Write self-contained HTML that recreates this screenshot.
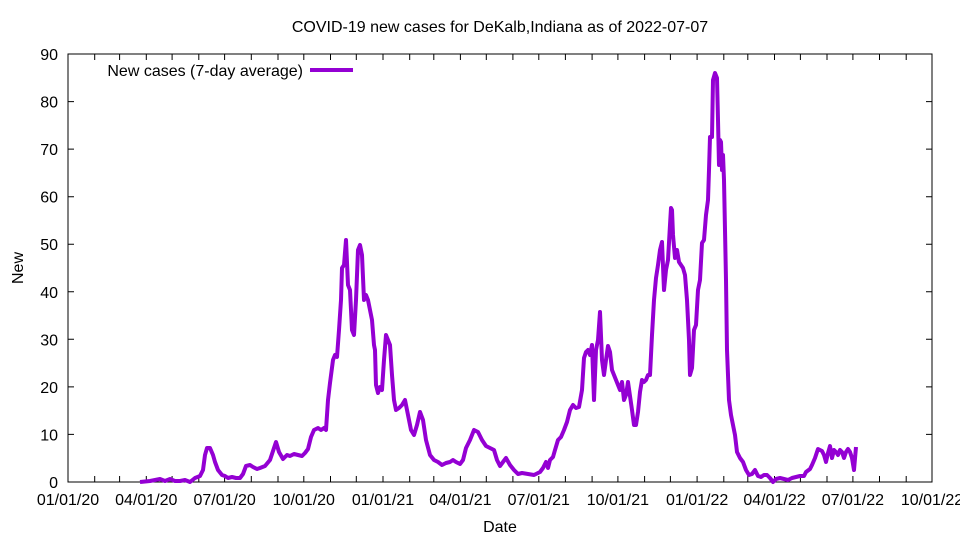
<!DOCTYPE html>
<html><head><meta charset="utf-8"><style>body{margin:0;background:#fff}svg{display:block}text{font-family:"Liberation Sans",sans-serif;font-size:16px;fill:#000}</style></head>
<body>
<svg width="960" height="540" xmlns="http://www.w3.org/2000/svg">
<rect x="68" y="54" width="864" height="428" fill="none" stroke="#000" stroke-width="1"/>
<g stroke="#000" stroke-width="1">
<path d="M68 434.4h6M68 386.9h6M68 339.3h6M68 291.8h6M68 244.2h6M68 196.7h6M68 149.1h6M68 101.6h6M932 434.4h-6M932 386.9h-6M932 339.3h-6M932 291.8h-6M932 244.2h-6M932 196.7h-6M932 149.1h-6M932 101.6h-6"/>
<path id="tk" d="M94.7 482v-6M119.6 482v-6M146.3 482v-6M172.1 482v-6M198.8 482v-6M224.6 482v-6M251.3 482v-6M278 482v-6M303.8 482v-6M330.5 482v-6M356.3 482v-6M383 482v-6M409.7 482v-6M433.8 482v-6M460.4 482v-6M486.3 482v-6M512.9 482v-6M538.8 482v-6M565.4 482v-6M592.1 482v-6M617.9 482v-6M644.6 482v-6M670.4 482v-6M697.1 482v-6M723.8 482v-6M747.8 482v-6M774.5 482v-6M800.4 482v-6M827 482v-6M852.9 482v-6M879.5 482v-6M906.2 482v-6"/>
<path d="M94.7 54v6M119.6 54v6M146.3 54v6M172.1 54v6M198.8 54v6M224.6 54v6M251.3 54v6M278 54v6M303.8 54v6M330.5 54v6M356.3 54v6M383 54v6M409.7 54v6M433.8 54v6M460.4 54v6M486.3 54v6M512.9 54v6M538.8 54v6M565.4 54v6M592.1 54v6M617.9 54v6M644.6 54v6M670.4 54v6M697.1 54v6M723.8 54v6M747.8 54v6M774.5 54v6M800.4 54v6M827 54v6M852.9 54v6M879.5 54v6M906.2 54v6"/>
</g>
<g text-anchor="end">
<text x="58" y="488">0</text><text x="58" y="440.4">10</text><text x="58" y="392.9">20</text><text x="58" y="345.3">30</text><text x="58" y="297.8">40</text><text x="58" y="250.2">50</text><text x="58" y="202.7">60</text><text x="58" y="155.1">70</text><text x="58" y="107.6">80</text><text x="58" y="60">90</text>
</g>
<g text-anchor="middle">
<text x="68" y="505">01/01/20</text><text x="146.3" y="505">04/01/20</text><text x="224.6" y="505">07/01/20</text><text x="303.8" y="505">10/01/20</text><text x="383" y="505">01/01/21</text><text x="460.4" y="505">04/01/21</text><text x="538.8" y="505">07/01/21</text><text x="617.9" y="505">10/01/21</text><text x="697.1" y="505">01/01/22</text><text x="774.5" y="505">04/01/22</text><text x="852.9" y="505">07/01/22</text><text x="932" y="505">10/01/22</text>
<text x="500" y="532">Date</text>
<text x="500" y="32">COVID-19 new cases for DeKalb,Indiana as of 2022-07-07</text>
<text x="0" y="0" transform="translate(23,268) rotate(-90)">New</text>
</g>
<text x="303" y="76" text-anchor="end">New cases (7-day average)</text>
<path d="M310 70h43" stroke="#9400d3" stroke-width="4"/>
<polyline fill="none" stroke="#9400d3" stroke-width="4" stroke-linejoin="round" points="140,482 150,481 160,479 165,481 170,479 175,481 180,481 185,480 190,482 195,478 200,476 203,470 205,455 207,448 210,448 213,455 215,462 218,470 222,475 225,476 228,478 232,477 236,478 240,478 243,474 246,466 250,465 253,467 257,469 260,468 265,466 270,460 274,448 276,442 279,452 283,459 287,455 290,456 294,454 298,455 302,456 305,453 308,449 311,437 314,430 318,428 321,430 324,428 326,430 328,400 330,383 333,360 335,355 337,357 339,330 341,300 342,268 344,265 346,240 348,285 350,290 352,330 354,335 356,300 358,250 360,245 362,255 364,300 366,295 368,300 370,310 372,320 374,345 375,350 376,385 378,393 380,387 382,390 384,360 386,335 388,340 390,345 392,375 394,400 396,410 399,408 402,405 405,400 408,415 411,430 414,435 417,425 420,412 423,420 426,440 430,455 434,460 438,462 442,465 446,463 450,462 453,460 456,462 460,464 463,460 466,448 470,440 474,430 478,432 482,440 486,446 490,448 494,450 497,460 500,466 503,462 506,458 510,465 514,470 518,474 522,473 528,474 534,475 540,472 543,468 546,462 548,468 550,460 553,457 555,450 558,440 561,437 564,430 567,422 570,410 573,405 576,408 579,407 582,390 584,358 586,352 588,350 590,355 592,345 594,400 596,350 598,340 600,312 602,360 604,375 606,360 608,346 610,352 612,370 614,375 616,380 618,385 620,390 622,382 624,400 626,395 628,382 630,396 632,410 634,425 636,425 638,412 640,392 642,380 644,382 646,380 648,375 650,375 652,335 654,300 656,278 658,265 660,250 662,242 664,290 666,270 668,260 670,225 671,208 672,210 673,235 675,258 677,250 679,262 681,265 683,268 685,275 687,300 689,340 690,375 692,368 694,330 696,325 698,290 700,280 702,243 704,240 706,215 708,200 709,170 710,137 712,137 713,80 715,73 717,78 718,120 719,165 720,140 721,142 722,170 723,155 724,180 726,280 727,350 729,400 731,415 733,425 735,435 737,452 740,458 743,462 746,470 749,475 752,474 755,470 758,476 761,477 764,475 767,475 770,478 773,482 776,479 780,478 784,479 788,480 792,478 796,477 800,476 804,476 806,472 810,469 812,465 815,458 818,449 822,451 824,455 826,462 828,453 830,446 832,458 834,450 836,452 838,455 840,450 842,452 844,458 846,452 848,449 850,452 852,458 854,470 856,447"/>
</svg>
</body></html>
